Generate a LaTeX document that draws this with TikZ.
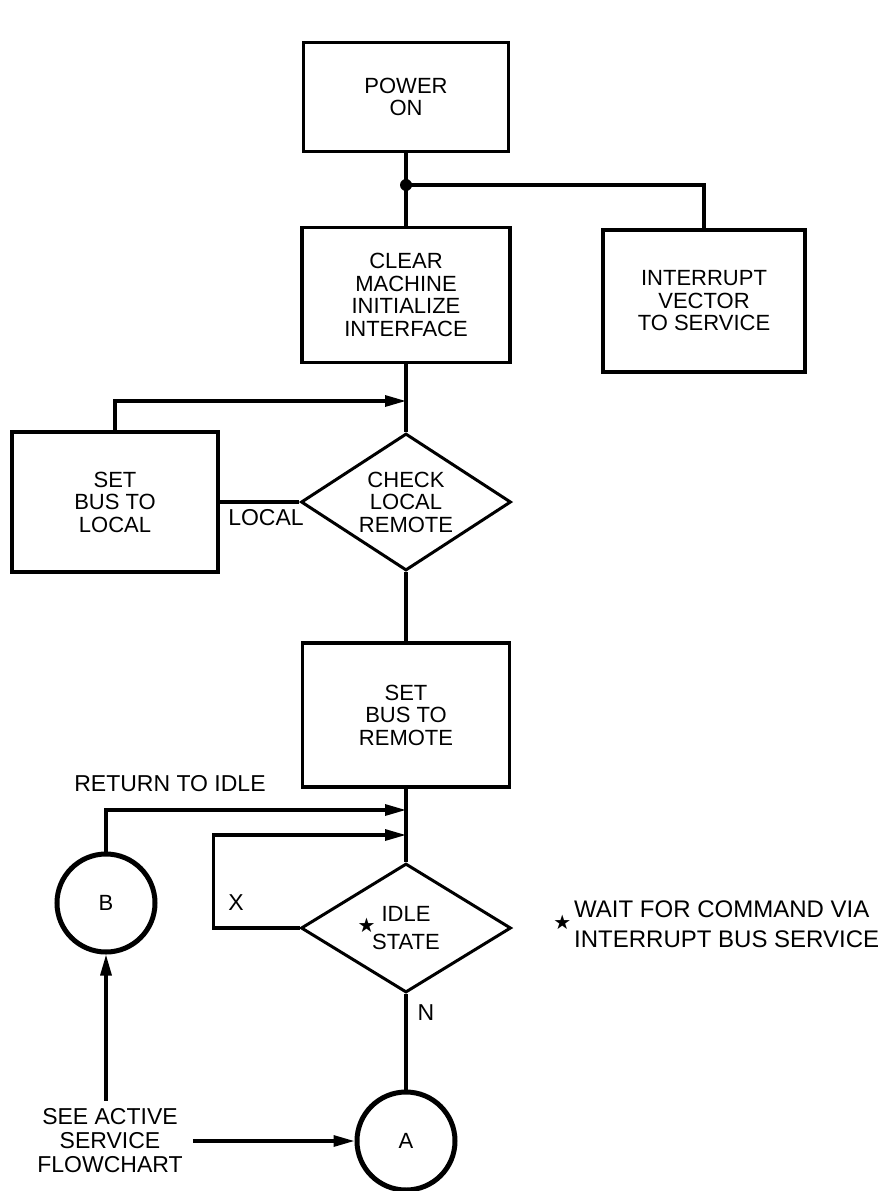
\documentclass[tikz,border=0pt]{standalone}
\usepackage{fontspec}
\setmainfont{Liberation Sans}
\newfontfamily\symfont{DejaVu Sans}
\usepackage{tikz}
\usetikzlibrary{positioning}
\usetikzlibrary{arrows.meta,shapes.geometric,calc}

\newcommand{\starmark}{{\symfont\fontsize{20}{20}\selectfont ★}}

\begin{document}
\begin{tikzpicture}[%
    x=1pt, y=-1pt,
    every node/.style={font={\fontsize{22}{22.5}\selectfont},align=center,inner sep=0pt},
    box/.style={draw,rectangle,line width=3.5pt},
    decision/.style={draw,diamond,aspect=1.5,line width=3pt},
    connector/.style={draw,circle,line width=5pt,minimum size=98pt},
    conn/.style={line width=3.2pt},
    arr/.style={conn,-{Triangle[length=21pt,width=11pt]}},
    lbl/.style={font={\fontsize{23}{24}\selectfont}}
]
\useasboundingbox (0,0) rectangle (886,1191);

% ---------------- Boxes and decisions ----------------
\node[box,minimum width=205pt,minimum height=109pt] (power) at (406,97) {POWER\\ON};
\node[box,minimum width=208pt,minimum height=135pt] (clear) at (406,295)
    {CLEAR\\MACHINE\\INITIALIZE\\INTERFACE};
\node[box,minimum width=202pt,minimum height=142pt] (intr) at (704,301)
    {INTERRUPT\\VECTOR\\TO SERVICE};
\node[box,minimum width=206pt,minimum height=140pt] (local) at (115,502) {SET\\BUS TO\\LOCAL};
\node[decision,minimum width=210pt,minimum height=137pt] (check) at (406,502)
    {CHECK\\LOCAL\\REMOTE};
\node[box,minimum width=207pt,minimum height=144pt] (remote) at (406,715) {SET\\BUS TO\\REMOTE};
\node[decision,minimum width=210pt,minimum height=129pt] (idle) at (406,928)
    {\llap{\raisebox{-11pt}{\starmark}\hspace{6pt}}IDLE\\STATE};

% ---------------- Off-page connectors ----------------
\node[connector] (B) at (106,903) {B};
\node[connector] (A) at (406,1141) {A};

% ---------------- Labels ----------------
\node[lbl] (loclbl) at (266,518) {LOCAL};
\node[lbl] (retlbl) at (170,784) {RETURN TO IDLE};
\node[lbl] (xlbl) at (236,903) {X};
\node[lbl] (nlbl) at (426,1013) {N};
\node[lbl] (see) at (110,1141) {SEE ACTIVE\\SERVICE\\FLOWCHART};
\node[lbl,font={\fontsize{24}{23}\selectfont},anchor=west,align=left] (note) at (574,924)
    {\llap{\raisebox{-12pt}{\starmark}\hspace{3pt}}WAIT FOR COMMAND VIA\\INTERRUPT BUS SERVICE};

% ---------------- Junctions on the main line ----------------
\coordinate (J) at (406,185);
\coordinate (m1) at (406,401);
\coordinate (m2) at (406,810);
\coordinate (m3) at (406,835);

% ---------------- Connections ----------------
\draw[conn] (power) -- (clear);
\fill (J) circle[radius=6pt];
\draw[conn] (J) -| (intr);
\draw[conn] (clear) -- (check);
\draw[arr] (local.north) |- (m1);
\draw[conn] (check) -- (local);
\draw[conn] (check) -- (remote);
\draw[conn] (remote) -- (idle);
\draw[arr] (B) |- (m2);
\draw[arr] (idle.west) -- ++(-86,0) |- (m3);
\draw[conn] (idle) -- (A);
\draw[arr,shorten <=8pt] (B |- see.north) -- (B.south);
\draw[arr,shorten <=10pt] (see.east) -- (A.west);

\end{tikzpicture}
\end{document}
